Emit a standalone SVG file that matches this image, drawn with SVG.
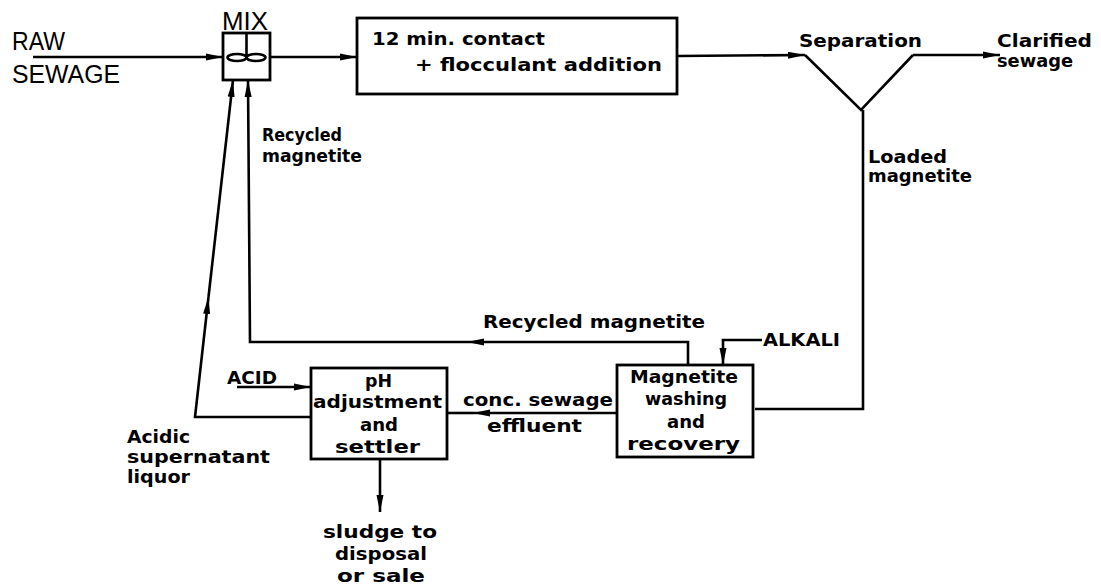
<svg xmlns="http://www.w3.org/2000/svg" width="1101" height="586" viewBox="0 0 1101 586">
<defs>
<marker id="arr" viewBox="0 0 17 8" refX="17" refY="4" markerWidth="17" markerHeight="8" markerUnits="userSpaceOnUse" orient="auto">
<path d="M0,0.5 L17,4 L0,7.5 Z" fill="#000"/>
</marker>
</defs>
<style>
.box{fill:#fff;stroke:#000;stroke-width:2.8}
.ln{fill:none;stroke:#000;stroke-width:2.6}
.arw{fill:none;stroke:#000;stroke-width:2.6;marker-end:url(#arr)}
text{font-family:"DejaVu Sans","Liberation Sans",sans-serif;font-weight:bold;font-size:18.5px;fill:#000}
.thin{font-family:"Liberation Sans",Arial,sans-serif;font-weight:normal;font-size:25px}
.c{text-anchor:middle}
</style>
<rect width="1101" height="586" fill="#fff"/>

<g id="connectors">
<path class="arw" d="M33,57 L223,57"/>
<path class="arw" d="M270,57 L357,57"/>
<path class="arw" d="M677,56 L805,55"/>
<path class="arw" d="M913,55 L1000,55"/>
<path class="ln" d="M863,110 L863,409 L755,409"/>
<path class="arw" d="M688,365 L688,342 L467,342"/>
<path class="arw" d="M467,342 L250,342 L248,80"/>
<path class="arw" d="M762,340 L723,340 L723,365"/>
<path class="arw" d="M237,387 L311,387"/>
<path class="arw" d="M617,413 L473,413"/>
<path class="ln" d="M473,413 L447,413"/>
<path class="arw" d="M311,417 L195,417 L208.5,297"/>
<path class="arw" d="M208.5,297 L233,80"/>
<path class="arw" d="M380,459 L380,512"/>
</g>

<g id="raw-sewage">
<text class="thin" x="12" y="50" textLength="53" lengthAdjust="spacingAndGlyphs">RAW</text>
<text class="thin" x="12" y="83" textLength="108" lengthAdjust="spacingAndGlyphs">SEWAGE</text>
</g>

<g id="mix">
<text class="thin" x="222" y="30" textLength="46" lengthAdjust="spacingAndGlyphs">MIX</text>
<rect class="box" x="223" y="33" width="47" height="47"/>
<path class="ln" d="M246.5,33 L246.5,55"/>
<ellipse class="ln" cx="237" cy="57.5" rx="9.5" ry="3.5"/>
<ellipse class="ln" cx="256" cy="57.5" rx="9.5" ry="3.5"/>
</g>

<g id="contact">
<rect class="box" x="357" y="18" width="320" height="76"/>
<text x="372" y="45" font-size="20" textLength="173" lengthAdjust="spacingAndGlyphs">12 min. contact</text>
<text x="415" y="71" font-size="20" textLength="247" lengthAdjust="spacingAndGlyphs">+ flocculant addition</text>
</g>

<g id="separation">
<path class="ln" d="M805,55 L861,110 L913,55"/>
<text x="799" y="47" textLength="123" lengthAdjust="spacingAndGlyphs">Separation</text>
</g>

<g id="clarified">
<text x="997" y="47" textLength="95" lengthAdjust="spacingAndGlyphs">Clarified</text>
<text x="997" y="67" textLength="76" lengthAdjust="spacingAndGlyphs">sewage</text>
</g>

<g id="loaded-label">
<text x="868" y="163" textLength="79" lengthAdjust="spacingAndGlyphs">Loaded</text>
<text x="868" y="182" textLength="104" lengthAdjust="spacingAndGlyphs">magnetite</text>
</g>

<g id="recycled-label-upper">
<text x="262" y="141" textLength="80" lengthAdjust="spacingAndGlyphs">Recycled</text>
<text x="262" y="162" textLength="100" lengthAdjust="spacingAndGlyphs">magnetite</text>
</g>

<g id="recycled-label-lower">
<text x="483" y="328" textLength="222" lengthAdjust="spacingAndGlyphs">Recycled magnetite</text>
</g>

<g id="alkali">
<text x="763" y="346" textLength="77" lengthAdjust="spacingAndGlyphs">ALKALI</text>
</g>

<g id="acid">
<text x="227" y="384" textLength="50" lengthAdjust="spacingAndGlyphs">ACID</text>
</g>

<g id="ph-settler">
<rect class="box" x="311" y="368" width="136" height="91"/>
<text x="365" y="387" textLength="27" lengthAdjust="spacingAndGlyphs">pH</text>
<text x="313" y="408" textLength="129" lengthAdjust="spacingAndGlyphs">adjustment</text>
<text x="360" y="431" textLength="38" lengthAdjust="spacingAndGlyphs">and</text>
<text x="335" y="453" textLength="85" lengthAdjust="spacingAndGlyphs">settler</text>
</g>

<g id="magnetite-washing">
<rect class="box" x="617" y="365" width="136" height="92"/>
<text x="630" y="383" textLength="108" lengthAdjust="spacingAndGlyphs">Magnetite</text>
<text x="645" y="405" textLength="82" lengthAdjust="spacingAndGlyphs">washing</text>
<text x="667" y="428" textLength="38" lengthAdjust="spacingAndGlyphs">and</text>
<text x="627" y="450" textLength="113" lengthAdjust="spacingAndGlyphs">recovery</text>
</g>

<g id="conc-label">
<text x="463" y="406" textLength="150" lengthAdjust="spacingAndGlyphs">conc. sewage</text>
<text x="487" y="432" textLength="95" lengthAdjust="spacingAndGlyphs">effluent</text>
</g>

<g id="acidic-label">
<text x="127" y="443" textLength="63" lengthAdjust="spacingAndGlyphs">Acidic</text>
<text x="127" y="463" textLength="143" lengthAdjust="spacingAndGlyphs">supernatant</text>
<text x="127" y="483" textLength="63" lengthAdjust="spacingAndGlyphs">liquor</text>
</g>

<g id="sludge">
<text x="323" y="538" textLength="114" lengthAdjust="spacingAndGlyphs">sludge to</text>
<text x="335" y="560" textLength="92" lengthAdjust="spacingAndGlyphs">disposal</text>
<text x="337" y="582" textLength="88" lengthAdjust="spacingAndGlyphs">or sale</text>
</g>
</svg>
